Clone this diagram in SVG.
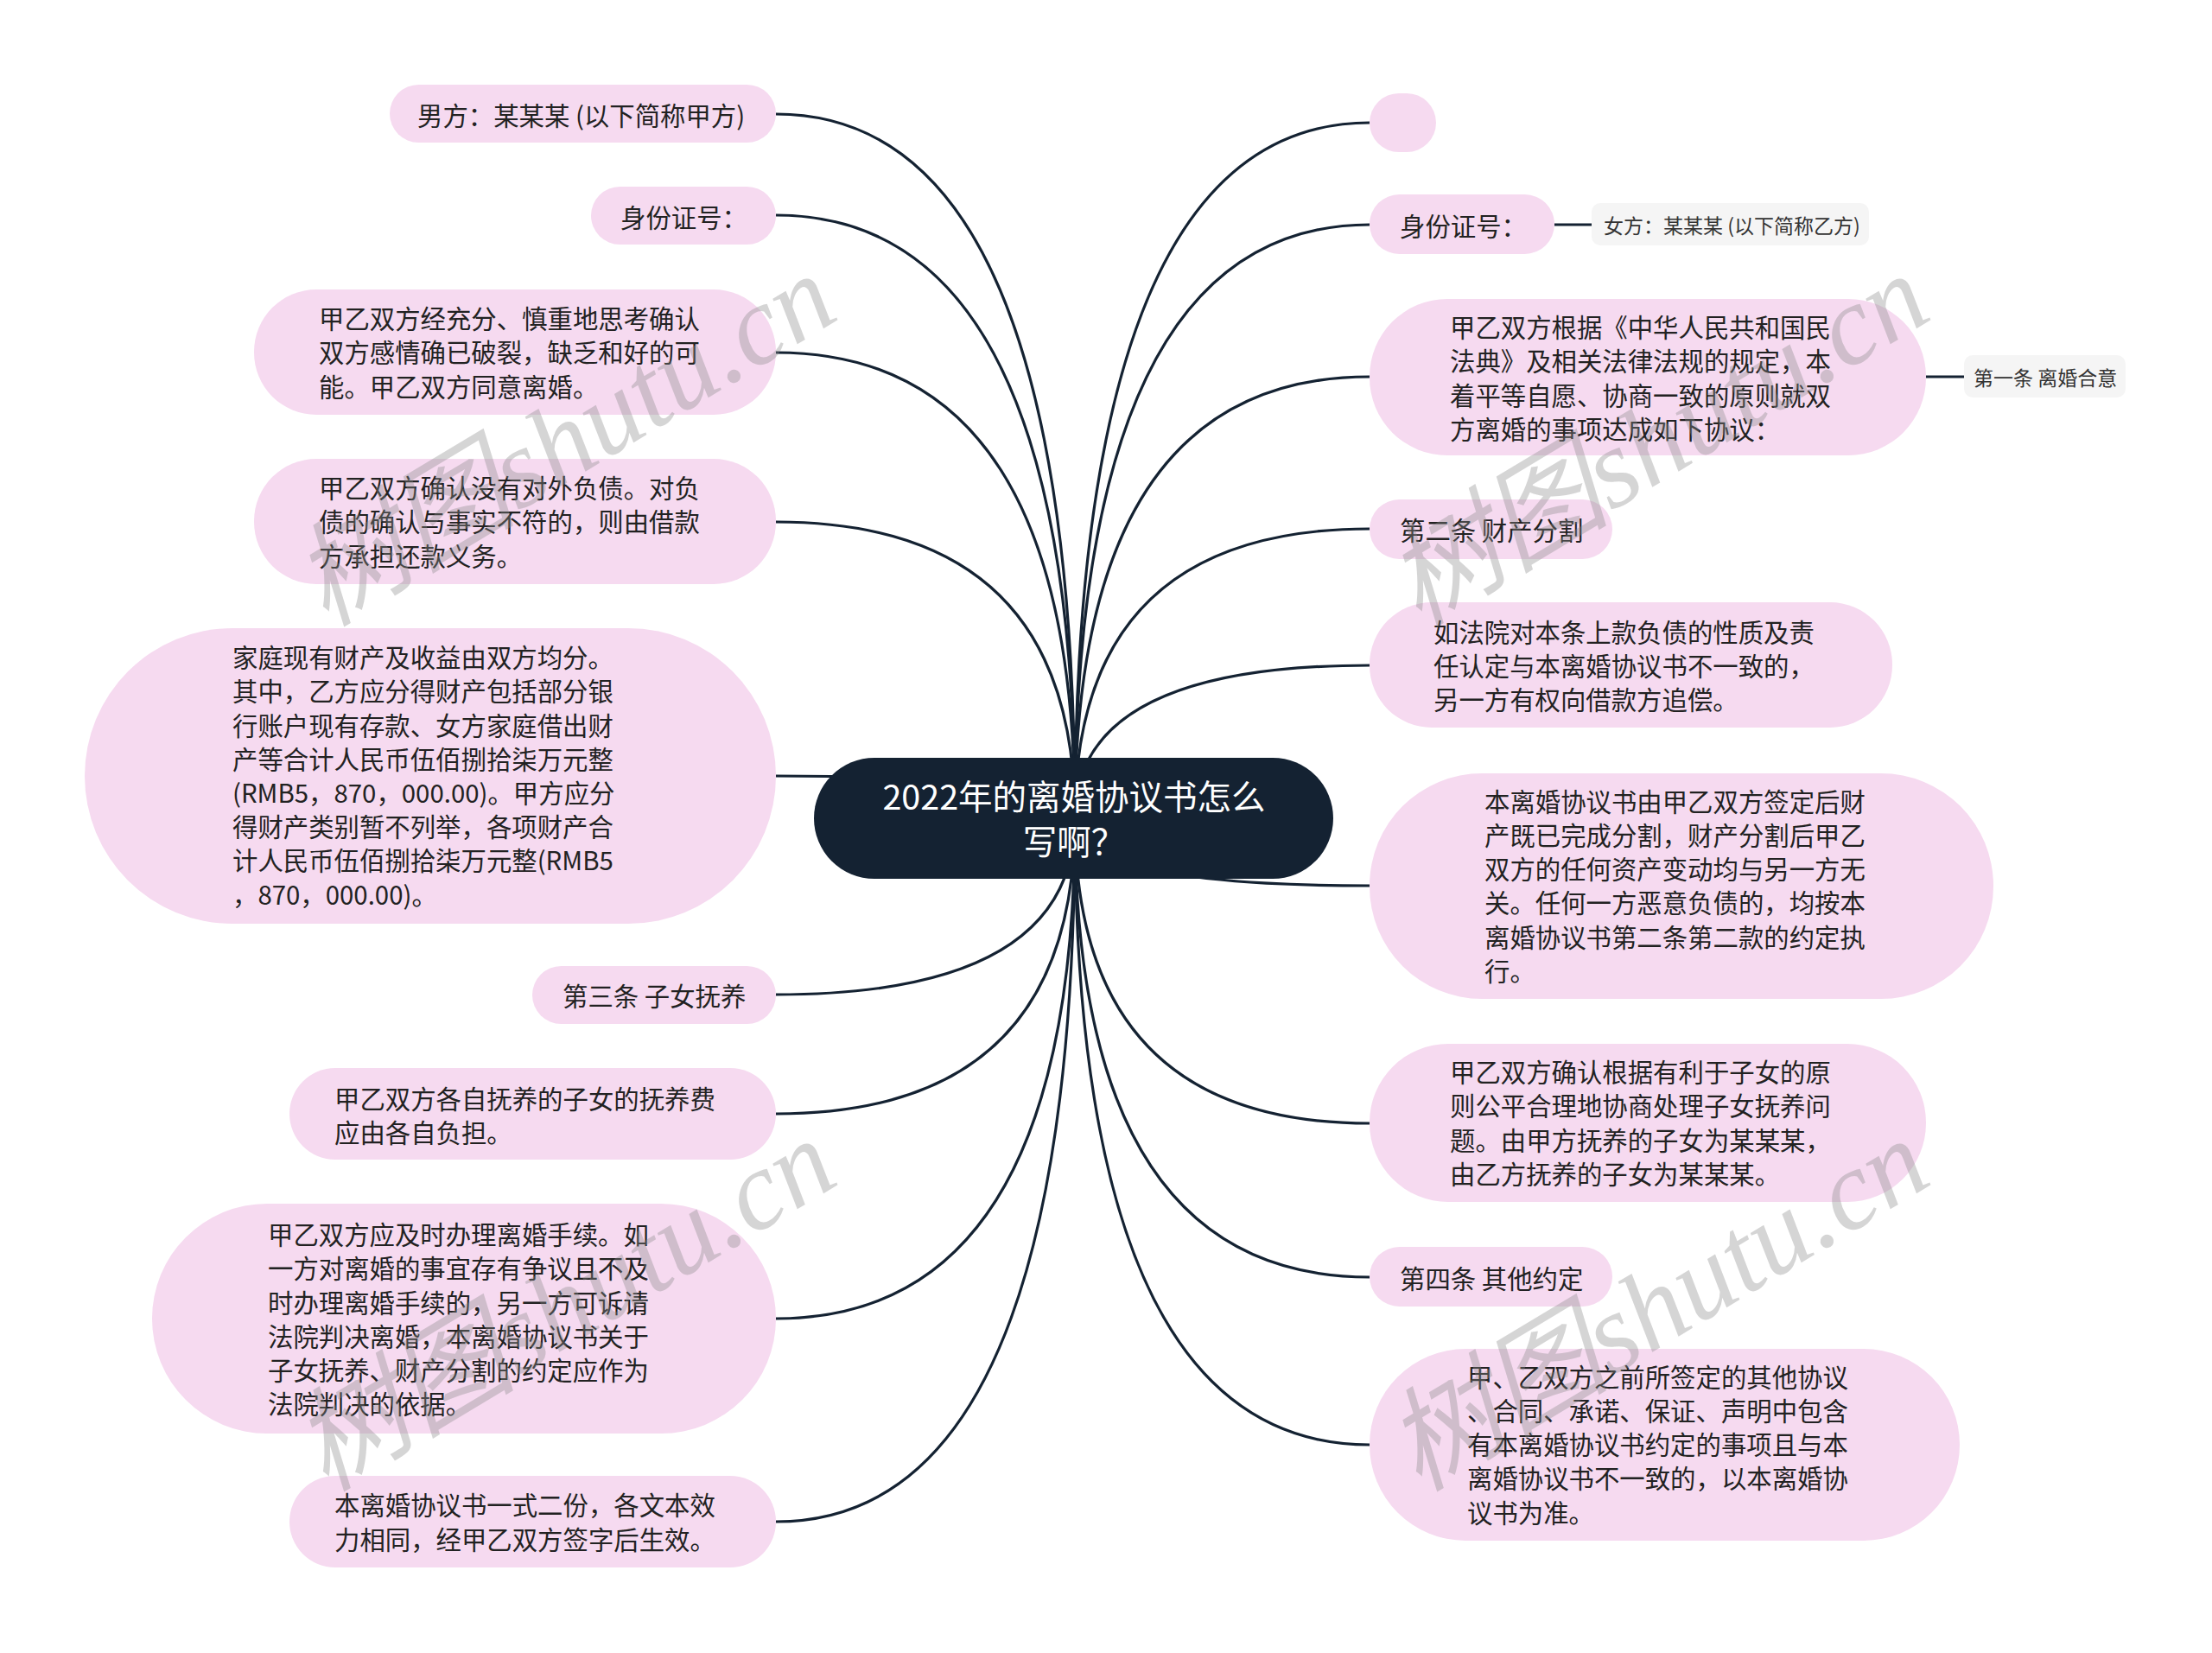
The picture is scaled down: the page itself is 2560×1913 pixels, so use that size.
<svg xmlns="http://www.w3.org/2000/svg" width="2560" height="1913" viewBox="0 0 2560 1913">
<style>
.bg{fill:#ffffff}
.lnk{fill:none;stroke:#142232;stroke-width:3.2}
.nd{fill:#f6daf0}
.gy{fill:#f5f5f5}
.root{fill:#142232}
.t{font-family:"Noto Sans CJK SC","Noto Sans",sans-serif;font-size:29.4px;fill:#222222;dominant-baseline:central}
.ts{font-family:"Noto Sans CJK SC","Noto Sans",sans-serif;font-size:23px;fill:#333333;dominant-baseline:central}
.tr{font-family:"Noto Sans CJK SC","Noto Sans",sans-serif;font-size:39.5px;fill:#ffffff;dominant-baseline:central;text-anchor:middle}
.wm{font-family:"Liberation Serif","Noto Sans CJK SC",serif;font-style:italic;font-size:130px;fill:#8a8a8a;fill-opacity:0.36;text-anchor:middle;dominant-baseline:central}
</style>
<rect class="bg" x="0" y="0" width="2560" height="1913"/>
<g id="connectors">
<path class="lnk" d="M1244 947 Q1244 132 898 132"/>
<path class="lnk" d="M1244 947 Q1244 249 898 249"/>
<path class="lnk" d="M1244 947 Q1244 408 898 408"/>
<path class="lnk" d="M1244 947 Q1244 604 898 604"/>
<path class="lnk" d="M1244 947 Q1244 898 898 898"/>
<path class="lnk" d="M1244 947 Q1244 1151 898 1151"/>
<path class="lnk" d="M1244 947 Q1244 1289 898 1289"/>
<path class="lnk" d="M1244 947 Q1244 1526 898 1526"/>
<path class="lnk" d="M1244 947 Q1244 1761 898 1761"/>
<path class="lnk" d="M1244 947 Q1244 142 1585 142"/>
<path class="lnk" d="M1244 947 Q1244 260 1585 260"/>
<path class="lnk" d="M1244 947 Q1244 436 1585 436"/>
<path class="lnk" d="M1244 947 Q1244 612 1585 612"/>
<path class="lnk" d="M1244 947 Q1244 770 1585 770"/>
<path class="lnk" d="M1244 947 Q1244 1025 1585 1025"/>
<path class="lnk" d="M1244 947 Q1244 1300 1585 1300"/>
<path class="lnk" d="M1244 947 Q1244 1478 1585 1478"/>
<path class="lnk" d="M1244 947 Q1244 1672 1585 1672"/>
<path class="lnk" d="M1799 260 L1842 260"/>
<path class="lnk" d="M2229 436 L2273 436"/>
</g>
<g id="root">
<rect class="root" x="942" y="877" width="601" height="140" rx="70"/>
<text class="tr" x="1243" y="919">2022年的离婚协议书怎么</text>
<text class="tr" x="1243" y="971">写啊？</text>
</g>
<g id="L1">
<rect class="nd" x="451" y="98" width="447" height="67" rx="33.5"/>
<text class="t" x="483" y="132">男方：某某某 (以下简称甲方)</text>
</g>
<g id="L2">
<rect class="nd" x="684" y="216" width="214" height="67" rx="33.5"/>
<text class="t" x="718" y="250">身份证号：</text>
</g>
<g id="L3">
<rect class="nd" x="294" y="335" width="604" height="145" rx="72"/>
<text class="t" x="369" y="367">甲乙双方经充分、慎重地思考确认</text>
<text class="t" x="369" y="406">双方感情确已破裂，缺乏和好的可</text>
<text class="t" x="369" y="446">能。甲乙双方同意离婚。</text>
</g>
<g id="L4">
<rect class="nd" x="294" y="531" width="604" height="145" rx="72"/>
<text class="t" x="369" y="563">甲乙双方确认没有对外负债。对负</text>
<text class="t" x="369" y="602">债的确认与事实不符的，则由借款</text>
<text class="t" x="369" y="642">方承担还款义务。</text>
</g>
<g id="L5">
<rect class="nd" x="98" y="727" width="800" height="342" rx="171"/>
<text class="t" x="269" y="759">家庭现有财产及收益由双方均分。</text>
<text class="t" x="269" y="798">其中，乙方应分得财产包括部分银</text>
<text class="t" x="269" y="838">行账户现有存款、女方家庭借出财</text>
<text class="t" x="269" y="877">产等合计人民币伍佰捌拾柒万元整</text>
<text class="t" x="269" y="916">(RMB5，870，000.00)。甲方应分</text>
<text class="t" x="269" y="955">得财产类别暂不列举，各项财产合</text>
<text class="t" x="269" y="994">计人民币伍佰捌拾柒万元整(RMB5</text>
<text class="t" x="269" y="1034">，870，000.00)。</text>
</g>
<g id="L6">
<rect class="nd" x="616" y="1118" width="282" height="67" rx="33.5"/>
<text class="t" x="651" y="1151">第三条 子女抚养</text>
</g>
<g id="L7">
<rect class="nd" x="335" y="1236" width="563" height="106" rx="53"/>
<text class="t" x="387" y="1270">甲乙双方各自抚养的子女的抚养费</text>
<text class="t" x="387" y="1309">应由各自负担。</text>
</g>
<g id="L8">
<rect class="nd" x="176" y="1393" width="722" height="266" rx="133"/>
<text class="t" x="310" y="1427">甲乙双方应及时办理离婚手续。如</text>
<text class="t" x="310" y="1466">一方对离婚的事宜存有争议且不及</text>
<text class="t" x="310" y="1506">时办理离婚手续的，另一方可诉请</text>
<text class="t" x="310" y="1545">法院判决离婚，本离婚协议书关于</text>
<text class="t" x="310" y="1584">子女抚养、财产分割的约定应作为</text>
<text class="t" x="310" y="1623">法院判决的依据。</text>
</g>
<g id="L9">
<rect class="nd" x="335" y="1708" width="563" height="106" rx="53"/>
<text class="t" x="387" y="1740">本离婚协议书一式二份，各文本效</text>
<text class="t" x="387" y="1780">力相同，经甲乙双方签字后生效。</text>
</g>
<g id="R1">
<rect class="nd" x="1585" y="108" width="77" height="68" rx="34"/>
</g>
<g id="R2">
<rect class="nd" x="1585" y="225" width="214" height="69" rx="34.5"/>
<text class="t" x="1620" y="260">身份证号：</text>
</g>
<g id="R2a">
<rect class="gy" x="1842" y="235" width="321" height="49" rx="10"/>
<text class="ts" x="1856" y="260">女方：某某某 (以下简称乙方)</text>
</g>
<g id="R3">
<rect class="nd" x="1585" y="346" width="644" height="181" rx="90"/>
<text class="t" x="1678" y="377">甲乙双方根据《中华人民共和国民</text>
<text class="t" x="1678" y="416">法典》及相关法律法规的规定，本</text>
<text class="t" x="1678" y="456">着平等自愿、协商一致的原则就双</text>
<text class="t" x="1678" y="495">方离婚的事项达成如下协议：</text>
</g>
<g id="R3a">
<rect class="gy" x="2273" y="411" width="187" height="49" rx="10"/>
<text class="ts" x="2284" y="436">第一条 离婚合意</text>
</g>
<g id="R4">
<rect class="nd" x="1585" y="578" width="281" height="69" rx="34.5"/>
<text class="t" x="1620" y="612">第二条 财产分割</text>
</g>
<g id="R5">
<rect class="nd" x="1585" y="697" width="605" height="145" rx="72"/>
<text class="t" x="1659" y="730">如法院对本条上款负债的性质及责</text>
<text class="t" x="1659" y="769">任认定与本离婚协议书不一致的，</text>
<text class="t" x="1659" y="808">另一方有权向借款方追偿。</text>
</g>
<g id="R6">
<rect class="nd" x="1585" y="895" width="722" height="261" rx="130"/>
<text class="t" x="1718" y="926">本离婚协议书由甲乙双方签定后财</text>
<text class="t" x="1718" y="965">产既已完成分割，财产分割后甲乙</text>
<text class="t" x="1718" y="1004">双方的任何资产变动均与另一方无</text>
<text class="t" x="1718" y="1043">关。任何一方恶意负债的，均按本</text>
<text class="t" x="1718" y="1083">离婚协议书第二条第二款的约定执</text>
<text class="t" x="1718" y="1122">行。</text>
</g>
<g id="R7">
<rect class="nd" x="1585" y="1208" width="644" height="183" rx="91"/>
<text class="t" x="1678" y="1239">甲乙双方确认根据有利于子女的原</text>
<text class="t" x="1678" y="1278">则公平合理地协商处理子女抚养问</text>
<text class="t" x="1678" y="1318">题。由甲方抚养的子女为某某某，</text>
<text class="t" x="1678" y="1357">由乙方抚养的子女为某某某。</text>
</g>
<g id="R8">
<rect class="nd" x="1585" y="1443" width="281" height="69" rx="34.5"/>
<text class="t" x="1620" y="1478">第四条 其他约定</text>
</g>
<g id="R9">
<rect class="nd" x="1585" y="1561" width="683" height="222" rx="111"/>
<text class="t" x="1698" y="1592">甲、乙双方之前所签定的其他协议</text>
<text class="t" x="1698" y="1631">、合同、承诺、保证、声明中包含</text>
<text class="t" x="1698" y="1670">有本离婚协议书约定的事项且与本</text>
<text class="t" x="1698" y="1709">离婚协议书不一致的，以本离婚协</text>
<text class="t" x="1698" y="1749">议书为准。</text>
</g>
<g id="watermarks">
<text class="wm" transform="translate(653 509) rotate(-31)">树图shutu.cn</text>
<text class="wm" transform="translate(1918 509) rotate(-31)">树图shutu.cn</text>
<text class="wm" transform="translate(653 1510) rotate(-31)">树图shutu.cn</text>
<text class="wm" transform="translate(1918 1510) rotate(-31)">树图shutu.cn</text>
</g>
</svg>
